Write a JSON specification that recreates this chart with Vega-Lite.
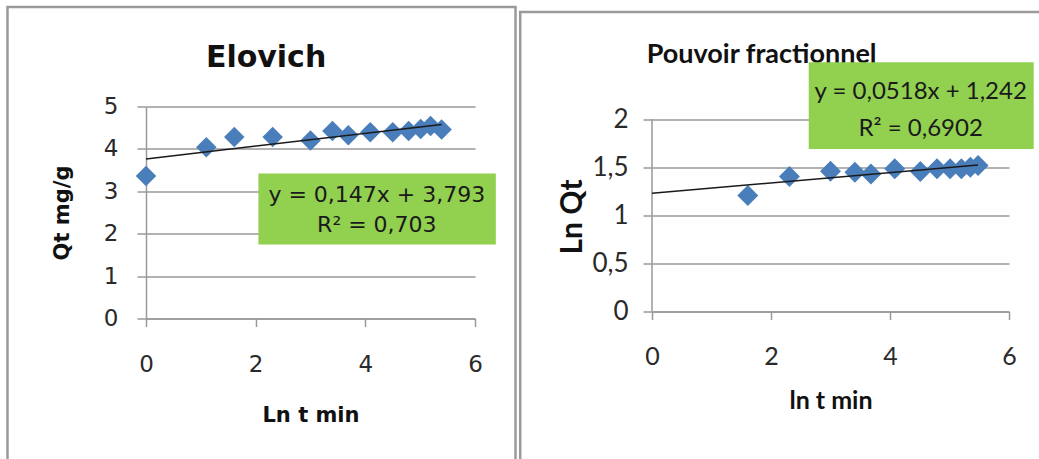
{
  "$schema": "https://vega.github.io/schema/vega-lite/v6.json",
  "background": "white",
  "padding": {"left": 6, "top": 5.5, "right": 0, "bottom": 0},
  "bounds": "flush",
  "spacing": 177,
  "config": {"view": {"stroke": null}},
  "datasets": {
    "elovich": [
      {"ln_t": 0, "qt": 3.36},
      {"ln_t": 1.1, "qt": 4.04},
      {"ln_t": 1.61, "qt": 4.28},
      {"ln_t": 2.31, "qt": 4.28},
      {"ln_t": 3.0, "qt": 4.2},
      {"ln_t": 3.4, "qt": 4.42},
      {"ln_t": 3.69, "qt": 4.32},
      {"ln_t": 4.09, "qt": 4.39},
      {"ln_t": 4.5, "qt": 4.39},
      {"ln_t": 4.79, "qt": 4.42},
      {"ln_t": 5.01, "qt": 4.47},
      {"ln_t": 5.19, "qt": 4.54},
      {"ln_t": 5.39, "qt": 4.46}
    ],
    "pouvoir": [
      {"ln_t": 1.61, "ln_qt": 1.206},
      {"ln_t": 2.31, "ln_qt": 1.403},
      {"ln_t": 3.0, "ln_qt": 1.458},
      {"ln_t": 3.41, "ln_qt": 1.448},
      {"ln_t": 3.68, "ln_qt": 1.43},
      {"ln_t": 4.08, "ln_qt": 1.483},
      {"ln_t": 4.51, "ln_qt": 1.455},
      {"ln_t": 4.79, "ln_qt": 1.483},
      {"ln_t": 5.01, "ln_qt": 1.483},
      {"ln_t": 5.2, "ln_qt": 1.483},
      {"ln_t": 5.35, "ln_qt": 1.5},
      {"ln_t": 5.48, "ln_qt": 1.517}
    ]
  },
  "hconcat": [
    {
      "width": 329,
      "height": 212,
      "data": {"name": "elovich"},
      "layer": [
        {
          "data": {"values": [{}]},
          "mark": {"type": "rect", "fill": null, "stroke": "#9a9a9a", "strokeWidth": 2.5, "clip": false},
          "encoding": {
            "x": {"datum": -2.526, "type": "quantitative", "scale": {"domain": [0, 6], "nice": false, "zero": false}},
            "x2": {"datum": 6.739},
            "y": {"datum": 7.347, "type": "quantitative", "scale": {"domain": [0, 5], "nice": false, "zero": false}},
            "y2": {"datum": -3.6}
          }
        },
        {
          "mark": {"type": "point", "shape": "diamond", "filled": true, "size": 420, "color": "#4a7ebb", "opacity": 1},
          "encoding": {
            "x": {
              "field": "ln_t", "type": "quantitative",
              "scale": {"domain": [0, 6], "nice": false, "zero": false},
              "axis": {
                "values": [0, 2, 4, 6], "grid": false, "format": "~g", "labelFlush": false,
                "domainColor": "#999999", "domainWidth": 1.5,
                "tickColor": "#999999", "tickWidth": 1.5, "tickSize": 8,
                "labelFont": "DejaVu Sans", "labelFontSize": 23, "labelColor": "#2a2a2a", "labelPadding": 27,
                "title": "Ln t min", "titleFont": "DejaVu Sans", "titleFontSize": 21, "titleFontWeight": "bold", "titleColor": "#111111",
                "titleX": 164.5, "titleY": 103, "titleBaseline": "alphabetic", "titleAlign": "center"
              }
            },
            "y": {
              "field": "qt", "type": "quantitative",
              "scale": {"domain": [0, 5], "nice": false, "zero": false},
              "axis": {
                "values": [0, 1, 2, 3, 4, 5], "grid": true, "gridColor": "#999999", "gridWidth": 1.5,
                "format": "~g", "labelFlush": false,
                "domainColor": "#999999", "domainWidth": 1.5,
                "tickColor": "#999999", "tickWidth": 1.5, "tickSize": 9,
                "labelFont": "DejaVu Sans", "labelFontSize": 23, "labelColor": "#2a2a2a", "labelPadding": 19,
                "title": "Qt mg/g", "titleFont": "DejaVu Sans", "titleFontSize": 21, "titleFontWeight": "bold", "titleColor": "#111111",
                "titleX": -84, "titleY": 106, "titleBaseline": "middle", "titleAlign": "center", "titleAngle": -90
              }
            }
          }
        },
        {
          "transform": [{"regression": "qt", "on": "ln_t", "extent": [0, 5.39]}],
          "mark": {"type": "line", "color": "#1a1a1a", "strokeWidth": 1.5},
          "encoding": {
            "x": {"field": "ln_t", "type": "quantitative", "scale": {"domain": [0, 6], "nice": false, "zero": false}},
            "y": {"field": "qt", "type": "quantitative", "scale": {"domain": [0, 5], "nice": false, "zero": false}}
          }
        },
        {
          "data": {"values": [{}]},
          "mark": {"type": "rect", "fill": "#92d050", "stroke": null, "clip": false},
          "encoding": {
            "x": {"datum": 2.05, "type": "quantitative", "scale": {"domain": [0, 6], "nice": false, "zero": false}},
            "x2": {"datum": 6.38},
            "y": {"datum": 3.42, "type": "quantitative", "scale": {"domain": [0, 5], "nice": false, "zero": false}},
            "y2": {"datum": 1.745}
          }
        },
        {
          "data": {"values": [{}]},
          "mark": {"type": "text", "text": ["y = 0,147x + 3,793", "R² = 0,703"], "lineHeight": 30, "font": "DejaVu Sans", "fontSize": 22, "fontWeight": "normal", "color": "#1a1a1a", "align": "center", "baseline": "alphabetic", "clip": false},
          "encoding": {
            "x": {"datum": 4.21, "type": "quantitative", "scale": {"domain": [0, 6], "nice": false, "zero": false}},
            "y": {"datum": 2.736, "type": "quantitative", "scale": {"domain": [0, 5], "nice": false, "zero": false}}
          }
        },
        {
          "data": {"values": [{}]},
          "mark": {"type": "text", "text": "Elovich", "font": "DejaVu Sans", "fontSize": 30, "fontWeight": "bold", "color": "#111111", "align": "center", "baseline": "alphabetic", "clip": false},
          "encoding": {
            "x": {"datum": 2.19, "type": "quantitative", "scale": {"domain": [0, 6], "nice": false, "zero": false}},
            "y": {"datum": 5.92, "type": "quantitative", "scale": {"domain": [0, 5], "nice": false, "zero": false}}
          }
        }
      ]
    },
    {
      "width": 357,
      "height": 205,
      "data": {"name": "pouvoir"},
      "layer": [
        {
          "data": {"values": [{}]},
          "mark": {"type": "rect", "fill": null, "stroke": "#9a9a9a", "strokeWidth": 2.5, "clip": false},
          "encoding": {
            "x": {"datum": -2.215, "type": "quantitative", "scale": {"domain": [0, 6], "nice": false, "zero": false}},
            "x2": {"datum": 7.2},
            "y": {"datum": 3.113, "type": "quantitative", "scale": {"domain": [0, 2.131], "nice": false, "zero": false}},
            "y2": {"datum": -1.8}
          }
        },
        {
          "data": {"values": [{}]},
          "mark": {"type": "rule", "color": "#999999", "strokeWidth": 1.5},
          "encoding": {
            "x": {"datum": 0, "type": "quantitative", "scale": {"domain": [0, 6], "nice": false, "zero": false}},
            "y": {"datum": 0, "type": "quantitative", "scale": {"domain": [0, 2.131], "nice": false, "zero": false}},
            "y2": {"datum": 2}
          }
        },
        {
          "mark": {"type": "point", "shape": "diamond", "filled": true, "size": 440, "color": "#4a7ebb", "opacity": 1},
          "encoding": {
            "x": {
              "field": "ln_t", "type": "quantitative",
              "scale": {"domain": [0, 6], "nice": false, "zero": false},
              "axis": {
                "values": [0, 2, 4, 6], "grid": false, "format": "~g", "labelFlush": false,
                "domainColor": "#999999", "domainWidth": 1.5,
                "tickColor": "#999999", "tickWidth": 1.5, "tickSize": 8,
                "labelFont": "Lato", "labelFontSize": 25, "labelColor": "#2a2a2a", "labelPadding": 25,
                "title": "ln t min", "titleFont": "Lato", "titleFontSize": 25, "titleFontWeight": "bold", "titleColor": "#111111",
                "titleX": 178.5, "titleY": 97, "titleBaseline": "alphabetic", "titleAlign": "center"
              }
            },
            "y": {
              "field": "ln_qt", "type": "quantitative",
              "scale": {"domain": [0, 2.131], "nice": false, "zero": false},
              "axis": {
                "values": [0, 0.5, 1, 1.5, 2], "grid": true, "gridColor": "#999999", "gridWidth": 1.5,
                "domain": false, "labelFlush": false,
                "tickColor": "#999999", "tickWidth": 1.5, "tickSize": 9,
                "labelExpr": "replace(format(datum.value, '~g'), '.', ',')",
                "labelFont": "Lato", "labelFontSize": 26, "labelColor": "#2a2a2a", "labelPadding": 15,
                "title": "Ln Qt", "titleFont": "Lato", "titleFontSize": 30, "titleFontWeight": "bold", "titleColor": "#111111",
                "titleX": -80, "titleY": 110, "titleBaseline": "middle", "titleAlign": "center", "titleAngle": -90
              }
            }
          }
        },
        {
          "transform": [{"regression": "ln_qt", "on": "ln_t", "extent": [0, 5.48]}],
          "mark": {"type": "line", "color": "#1a1a1a", "strokeWidth": 1.5},
          "encoding": {
            "x": {"field": "ln_t", "type": "quantitative", "scale": {"domain": [0, 6], "nice": false, "zero": false}},
            "y": {"field": "ln_qt", "type": "quantitative", "scale": {"domain": [0, 2.131], "nice": false, "zero": false}}
          }
        },
        {
          "data": {"values": [{}]},
          "mark": {"type": "text", "text": "Pouvoir fractionnel", "font": "Lato", "fontSize": 27, "fontWeight": "bold", "color": "#111111", "align": "left", "baseline": "alphabetic", "clip": false},
          "encoding": {
            "x": {"datum": -0.089, "type": "quantitative", "scale": {"domain": [0, 6], "nice": false, "zero": false}},
            "y": {"datum": 2.578, "type": "quantitative", "scale": {"domain": [0, 2.131], "nice": false, "zero": false}}
          }
        },
        {
          "data": {"values": [{}]},
          "mark": {"type": "rect", "fill": "#92d050", "stroke": null, "clip": false},
          "encoding": {
            "x": {"datum": 2.634, "type": "quantitative", "scale": {"domain": [0, 6], "nice": false, "zero": false}},
            "x2": {"datum": 6.415},
            "y": {"datum": 2.59, "type": "quantitative", "scale": {"domain": [0, 2.131], "nice": false, "zero": false}},
            "y2": {"datum": 1.69}
          }
        },
        {
          "data": {"values": [{}]},
          "mark": {"type": "text", "text": ["y = 0,0518x + 1,242", "R² = 0,6902"], "lineHeight": 37, "font": "Lato", "fontSize": 24, "fontWeight": "normal", "color": "#1a1a1a", "align": "center", "baseline": "alphabetic", "clip": false},
          "encoding": {
            "x": {"datum": 4.516, "type": "quantitative", "scale": {"domain": [0, 6], "nice": false, "zero": false}},
            "y": {"datum": 2.214, "type": "quantitative", "scale": {"domain": [0, 2.131], "nice": false, "zero": false}}
          }
        }
      ]
    }
  ]
}
